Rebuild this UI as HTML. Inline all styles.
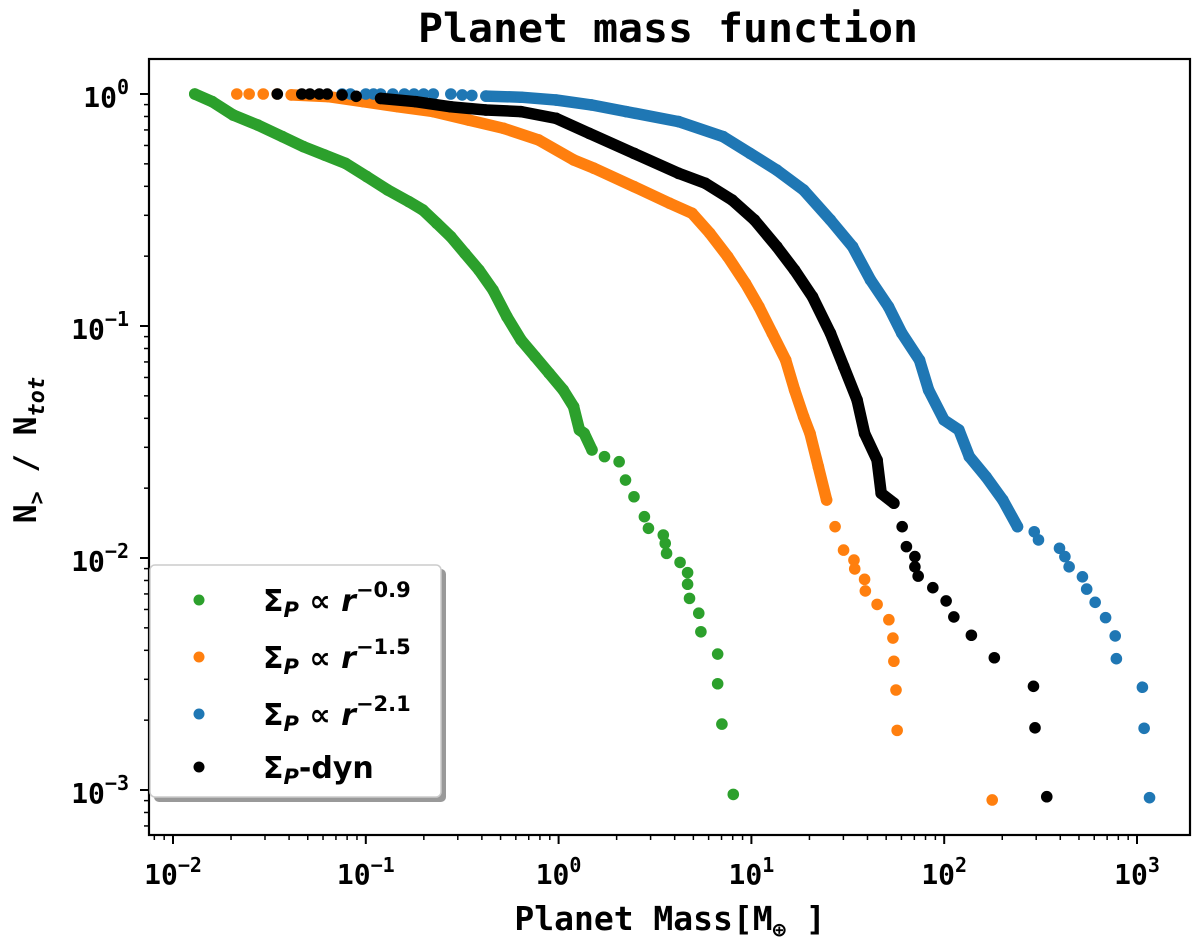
<!DOCTYPE html>
<html><head><meta charset="utf-8"><style>
html,body{margin:0;padding:0;background:#fff;}
svg{display:block;}
.mono{font-family:"DejaVu Sans Mono","Liberation Mono",monospace;font-weight:bold;}
.math{font-family:"DejaVu Sans","Liberation Sans",sans-serif;font-weight:bold;}
</style></head><body>
<svg id="chart" width="1200" height="947" viewBox="0 0 1200 947" xmlns="http://www.w3.org/2000/svg">
<text class="mono" x="668" y="42" font-size="40" text-anchor="middle" textLength="500" lengthAdjust="spacingAndGlyphs">Planet mass function</text>
<text class="mono" x="670" y="930" font-size="33" text-anchor="middle">Planet Mass[M<tspan font-size="22" dy="7">⊕</tspan><tspan dy="-7"> ]</tspan></text>
<text class="mono" transform="translate(36,450) rotate(-90)" font-size="31" text-anchor="middle">N<tspan font-size="22" dy="8">&gt;</tspan><tspan dy="-8">  / N</tspan><tspan font-size="22" dy="8" font-style="italic">tot</tspan></text>
<g id="marks"></g>
<g id="axes"></g>
<g id="legend">
  <rect x="154" y="569" width="292" height="233" rx="5" fill="#999"/>
  <rect x="150" y="565" width="291" height="232" rx="5" fill="#fff" stroke="#ccc" stroke-width="1.5"/>
  <g><circle cx="199" cy="600" r="5.5" fill="#2ca02c"/><text class="math" x="263" y="611" font-size="30">Σ<tspan font-size="21" dy="6" font-style="italic">P</tspan><tspan dy="-6"> ∝ </tspan><tspan font-style="italic">r</tspan><tspan font-size="21" dy="-14">−0.9</tspan></text></g>
  <g><circle cx="199" cy="657" r="5.5" fill="#ff7f0e"/><text class="math" x="263" y="668" font-size="30">Σ<tspan font-size="21" dy="6" font-style="italic">P</tspan><tspan dy="-6"> ∝ </tspan><tspan font-style="italic">r</tspan><tspan font-size="21" dy="-14">−1.5</tspan></text></g>
  <g><circle cx="199" cy="714" r="5.5" fill="#1f77b4"/><text class="math" x="263" y="725" font-size="30">Σ<tspan font-size="21" dy="6" font-style="italic">P</tspan><tspan dy="-6"> ∝ </tspan><tspan font-style="italic">r</tspan><tspan font-size="21" dy="-14">−2.1</tspan></text></g>
  <g><circle cx="199" cy="767" r="5.5" fill="#000"/><text class="math" x="263" y="778" font-size="30">Σ<tspan font-size="21" dy="6" font-style="italic">P</tspan><tspan dy="-6">-dyn</tspan></text></g>
</g>
</svg>
<script>
// log10 values
const xTickExps = [-2,-1,0,1,2,3];
const yTickExps = [0,-1,-2,-3];
const greenDenseLogM = [-1.887,-1.796,-1.687,-1.560,-1.432,-1.323,-1.214,-1.105,-0.995,-0.886,-0.777,-0.704,-0.632,-0.559,-0.486,-0.413,-0.340,-0.268,-0.195,-0.122,-0.049,0.024,0.078,0.108,0.133,0.173];
const greenDenseLogF = [0,-0.033,-0.091,-0.134,-0.184,-0.227,-0.263,-0.299,-0.356,-0.414,-0.464,-0.5,-0.557,-0.615,-0.687,-0.759,-0.845,-0.96,-1.06,-1.132,-1.204,-1.276,-1.348,-1.448,-1.463,-1.534];
const greenTailLogM = [0.238,0.314,0.347,0.391,0.445,0.466,0.543,0.553,0.560,0.630,0.669,0.669,0.679,0.727,0.738,0.825,0.825,0.847,0.906];
const greenTailLogF = [-1.563,-1.585,-1.664,-1.736,-1.822,-1.872,-1.901,-1.937,-1.98,-2.019,-2.063,-2.113,-2.174,-2.238,-2.318,-2.414,-2.542,-2.716,-3.019];
const orangeDenseLogM = [-1.387,-1.196,-1.013,-0.832,-0.650,-0.468,-0.286,-0.104,0.078,0.183,0.391,0.576,0.692,0.784,0.877,0.969,1.039,1.108,1.178,1.224,1.271,1.304,1.347,1.390];
const orangeDenseLogF = [-0.004,-0.011,-0.033,-0.055,-0.076,-0.112,-0.148,-0.198,-0.284,-0.320,-0.399,-0.471,-0.514,-0.600,-0.701,-0.816,-0.917,-1.031,-1.147,-1.276,-1.391,-1.463,-1.606,-1.75];
const orangeTailLogM = [-1.669,-1.605,-1.532,-1.46,1.434,1.478,1.532,1.536,1.587,1.591,1.652,1.713,1.734,1.739,1.750,1.756,2.249];
const orangeTailLogF = [0,0,0,0,-1.865,-1.966,-2.009,-2.047,-2.092,-2.142,-2.2,-2.266,-2.345,-2.445,-2.569,-2.743,-3.043];
const blackDenseLogM = [-0.923,-0.741,-0.559,-0.377,-0.195,-0.013,0.159,0.391,0.622,0.761,0.900,1.016,1.132,1.224,1.317,1.410,1.479,1.548,1.587,1.652,1.673,1.739];
const blackDenseLogF = [-0.019,-0.033,-0.055,-0.069,-0.076,-0.105,-0.170,-0.256,-0.342,-0.385,-0.457,-0.543,-0.658,-0.759,-0.874,-1.031,-1.175,-1.319,-1.463,-1.578,-1.721,-1.764];
const blackTailLogM = [-1.459,-1.332,-1.290,-1.241,-1.2,-1.123,-1.05,1.782,1.804,1.848,1.848,1.865,1.941,2.010,2.050,2.141,2.260,2.463,2.471,2.532];
const blackTailLogF = [0,0,0,0,0,-0.004,-0.01,-1.865,-1.951,-1.994,-2.038,-2.078,-2.128,-2.185,-2.254,-2.333,-2.43,-2.553,-2.732,-3.029];
const blueDenseLogM = [-0.377,-0.195,-0.013,0.169,0.351,0.622,0.854,0.993,1.132,1.271,1.410,1.525,1.618,1.711,1.780,1.872,1.919,1.999,2.076,2.130,2.217,2.304,2.380];
const blueDenseLogF = [-0.009,-0.014,-0.026,-0.047,-0.076,-0.119,-0.184,-0.256,-0.328,-0.414,-0.543,-0.658,-0.802,-0.917,-1.031,-1.147,-1.276,-1.405,-1.448,-1.563,-1.65,-1.75,-1.865];
const blueTailLogM = [-1.123,-1.08,-1.0,-0.96,-0.923,-0.86,-0.8,-0.75,-0.7,-0.65,-0.559,-0.5,-0.45,2.467,2.489,2.598,2.626,2.648,2.717,2.739,2.783,2.837,2.887,2.893,3.028,3.037,3.065];
const blueTailLogF = [0,0,0,0,0,0,0,0,0,0,0,-0.004,-0.006,-1.887,-1.922,-1.958,-1.994,-2.038,-2.081,-2.134,-2.191,-2.257,-2.336,-2.434,-2.557,-2.734,-3.033];

const NS = 'http://www.w3.org/2000/svg';
const L = 149, R = 1190, T = 59, B = 835;
function xS(lm){ return 173 + (lm + 2) * 192.8; }
function yS(lf){ return 94 - lf * 232; }
function mk(tag, attrs, parent){ const e = document.createElementNS(NS, tag); for (const k in attrs) e.setAttribute(k, attrs[k]); parent.appendChild(e); return e; }

const marks = document.getElementById('marks');
function drawSeries(name, color, dm, df, tm, tf){
  const g = mk('g', {}, marks);
  
  
  const pts = dm.map((m, i) => xS(m).toFixed(1) + ',' + yS(df[i]).toFixed(1)).join(' ');
  const pl = mk('polyline', {points: pts, fill: 'none', stroke: color, 'stroke-width': 11.5, 'stroke-linecap': 'round', 'stroke-linejoin': 'round'}, g);
  
  
  dm.forEach((m, i) => {
    const c = mk('circle', {cx: xS(m), cy: yS(df[i]), r: 5.8, fill: color}, g);
    
    
  });
  tm.forEach((m, i) => {
    const c = mk('circle', {cx: xS(m), cy: yS(tf[i]), r: 5.8, fill: color}, g);
    
    
  });
}
drawSeries('green', '#2ca02c', greenDenseLogM, greenDenseLogF, greenTailLogM, greenTailLogF);
drawSeries('orange', '#ff7f0e', orangeDenseLogM, orangeDenseLogF, orangeTailLogM, orangeTailLogF);
drawSeries('blue', '#1f77b4', blueDenseLogM, blueDenseLogF, blueTailLogM, blueTailLogF);
drawSeries('black', '#000000', blackDenseLogM, blackDenseLogF, blackTailLogM, blackTailLogF);

const axes = document.getElementById('axes');
const frame = mk('rect', {x: L, y: T, width: R - L, height: B - T, fill: 'none', stroke: '#000', 'stroke-width': 2.2}, axes);


for (let d = -3; d <= 3; d++) {
  for (let k = 1; k <= 9; k++) {
    const x = xS(d + Math.log10(k));
    if (x < L || x > R) continue;
    const major = k === 1;
    const t = mk('line', {x1: x, x2: x, y1: B, y2: B + (major ? 9 : 5), stroke: '#000', 'stroke-width': major ? 2 : 1.5}, axes);
    
    
  }
}
xTickExps.forEach(e => {
  const t = mk('text', {x: xS(e), y: 884, 'font-size': 28, 'text-anchor': 'middle', class: 'mono'}, axes);
  
  
  t.innerHTML = '10<tspan font-size="20" dy="-12">' + String(e).replace('-', '−') + '</tspan>';
});
for (let d = -4; d <= 0; d++) {
  for (let k = 1; k <= 9; k++) {
    const y = yS(d + Math.log10(k));
    if (y < T || y > B) continue;
    const major = k === 1;
    const t = mk('line', {x1: L, x2: L - (major ? 9 : 5), y1: y, y2: y, stroke: '#000', 'stroke-width': major ? 2 : 1.5}, axes);
    
    
  }
}
yTickExps.forEach(e => {
  const t = mk('text', {x: 129, y: yS(e) + 13, 'font-size': 28, 'text-anchor': 'end', class: 'mono'}, axes);
  
  
  t.innerHTML = '10<tspan font-size="20" dy="-13">' + String(e).replace('-', '−') + '</tspan>';
});
</script>
</body></html>
